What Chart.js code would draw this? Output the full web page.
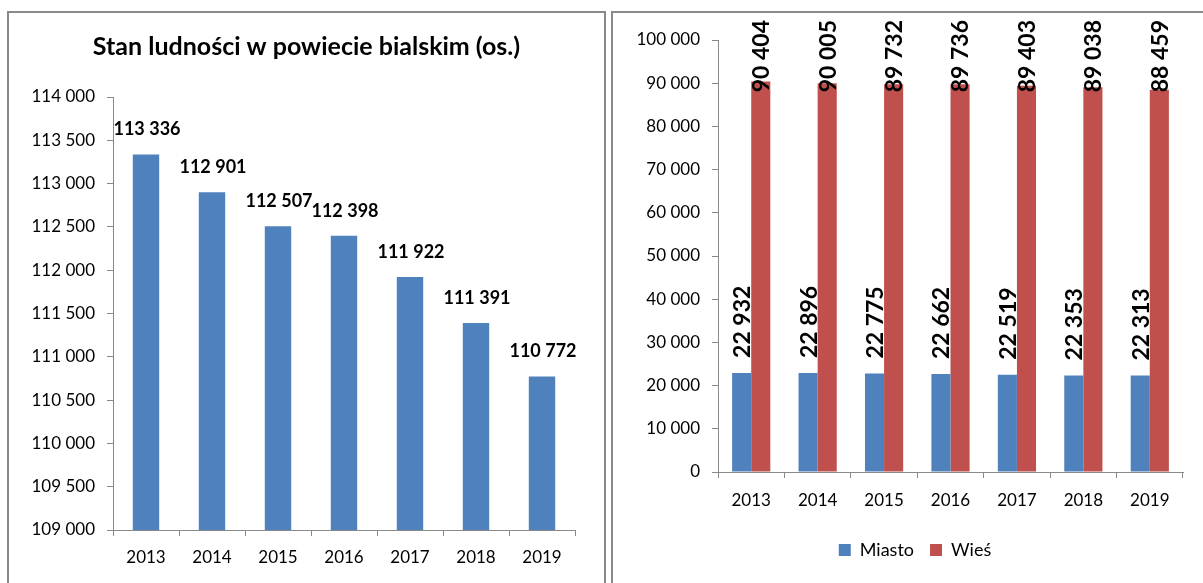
<!DOCTYPE html>
<html><head><meta charset="utf-8">
<script src="https://cdn.jsdelivr.net/npm/chart.js@4.4.1/dist/chart.umd.min.js"></script>
<style>
html,body{margin:0;padding:0;background:#fff;width:1203px;height:583px;overflow:hidden;}
.box{position:absolute;top:11px;height:620px;border:2px solid #898989;box-sizing:border-box;}
#boxL{left:7px;width:599px;}
#boxR{left:611px;width:620px;}
canvas{position:absolute;left:0;top:0;}
</style></head><body>
<div class="box" id="boxL"><canvas id="c1" width="595" height="570"></canvas></div>
<div class="box" id="boxR"><canvas id="c2" width="590" height="570"></canvas></div>
<script>
const years = ['2013','2014','2015','2016','2017','2018','2019'];
const total = [113336,112901,112507,112398,111922,111391,110772];
const miasto = [22932,22896,22775,22662,22519,22353,22313];
const wies = [90404,90005,89732,89736,89403,89038,88459];
const leftTitle = 'Stan ludności w powiecie bialskim (os.)';
const leftTicks = [109000,114000,500];
const rightTicks = [0,100000,10000];
const seriesNames = ['Miasto','Wieś'];

const BLUE = '#4F81BD', RED = '#C0504D', AXIS = '#898989';
const fmt = v => String(v).replace(/\B(?=(\d{3})+(?!\d))/g, ' ');

Chart.defaults.font.family = 'Lato';
Chart.defaults.color = '#000';

const leftLabels = {
  id: 'leftLabels',
  afterLayout(chart) {
    // title is centred on the whole chart box, not only the plot
    if (chart.titleBlock) chart.titleBlock.right = chart.width;
  },
  afterDatasetsDraw(chart) {
    const ctx = chart.ctx;
    const meta = chart.getDatasetMeta(0);
    ctx.save();
    ctx.font = 'bold 18px Lato';
    ctx.fillStyle = '#000';
    ctx.textAlign = 'center';
    ctx.textBaseline = 'middle';
    meta.data.forEach((el, i) => {
      ctx.fillText(fmt(chart.data.datasets[0].data[i]), el.x + 1, el.y - 25);
    });
    ctx.restore();
  }
};

const rightLabels = {
  id: 'rightLabels',
  afterLayout(chart) {
    // the legend is centred on the whole chart box (wider than the plot)
    if (chart.legend) chart.legend.left = 34;
  },
  afterDatasetsDraw(chart) {
    const ctx = chart.ctx;
    ctx.save();
    ctx.font = 'bold 23px Lato';
    ctx.fillStyle = '#000';
    ctx.textAlign = 'left';
    ctx.textBaseline = 'middle';
    const limit = chart.chartArea.top - 20;
    chart.data.datasets.forEach((ds, di) => {
      const meta = chart.getDatasetMeta(di);
      meta.data.forEach((el, i) => {
        const t = fmt(ds.data[i]);
        const len = ctx.measureText(t).width;
        let start = el.y - 15;
        if (start - len < limit) start = limit + len;
        ctx.save();
        ctx.translate(el.x + 1, start);
        ctx.rotate(-Math.PI / 2);
        ctx.fillText(t, 0, 0);
        ctx.restore();
      });
    });
    ctx.restore();
  }
};

function axisX(h, pad) {
  return {
    grid: {drawOnChartArea: false, drawTicks: true, tickLength: 6, color: AXIS, offset: true},
    border: {display: true, color: AXIS, width: 1},
    ticks: {font: {size: 17}, padding: pad, color: '#000', maxRotation: 0, autoSkip: false},
    afterFit(s) { s.height = h; }
  };
}
function axisY(w, t) {
  return {
    min: t[0], max: t[1],
    grid: {drawOnChartArea: false, drawTicks: true, tickLength: 6, color: AXIS},
    border: {display: true, color: AXIS, width: 1},
    ticks: {stepSize: t[2], font: {size: 17}, padding: 12, color: '#000', callback: v => fmt(v)},
    afterFit(s) { s.width = w; }
  };
}

function draw() {
  new Chart(document.getElementById('c1'), {
    type: 'bar',
    data: {labels: years, datasets: [{data: total, backgroundColor: BLUE, borderWidth: 0,
      barPercentage: 0.4, categoryPercentage: 1}]},
    options: {
      responsive: false, animation: false, devicePixelRatio: 1,
      layout: {padding: {left: 0, right: 29, top: 0, bottom: 0}},
      plugins: {
        legend: {display: false}, tooltip: {enabled: false},
        title: {display: true, text: leftTitle, color: '#000',
          font: {size: 25, weight: 'bold', family: 'Lato'}, padding: {top: 19, bottom: 35}}
      },
      scales: {x: axisX(53, 11), y: axisY(104, leftTicks)}
    },
    plugins: [leftLabels]
  });

  new Chart(document.getElementById('c2'), {
    type: 'bar',
    data: {labels: years, datasets: [
      {label: seriesNames[0], data: miasto, backgroundColor: BLUE, borderWidth: 0, barPercentage: 1, categoryPercentage: 0.575},
      {label: seriesNames[1], data: wies, backgroundColor: RED, borderWidth: 0, barPercentage: 1, categoryPercentage: 0.575}
    ]},
    options: {
      responsive: false, animation: false, devicePixelRatio: 1,
      layout: {padding: {left: 0, right: 20, top: 27, bottom: 14}},
      plugins: {
        tooltip: {enabled: false},
        legend: {position: 'bottom', labels: {boxWidth: 12, boxHeight: 12, padding: 16, color: '#000', font: {size: 18}}}
      },
      scales: {x: axisX(53, 12), y: axisY(105, rightTicks)}
    },
    plugins: [rightLabels]
  });
}

Promise.all([document.fonts.load('17px Lato'), document.fonts.load('bold 18px Lato')])
  .then(draw, draw);
</script>
</body></html>
